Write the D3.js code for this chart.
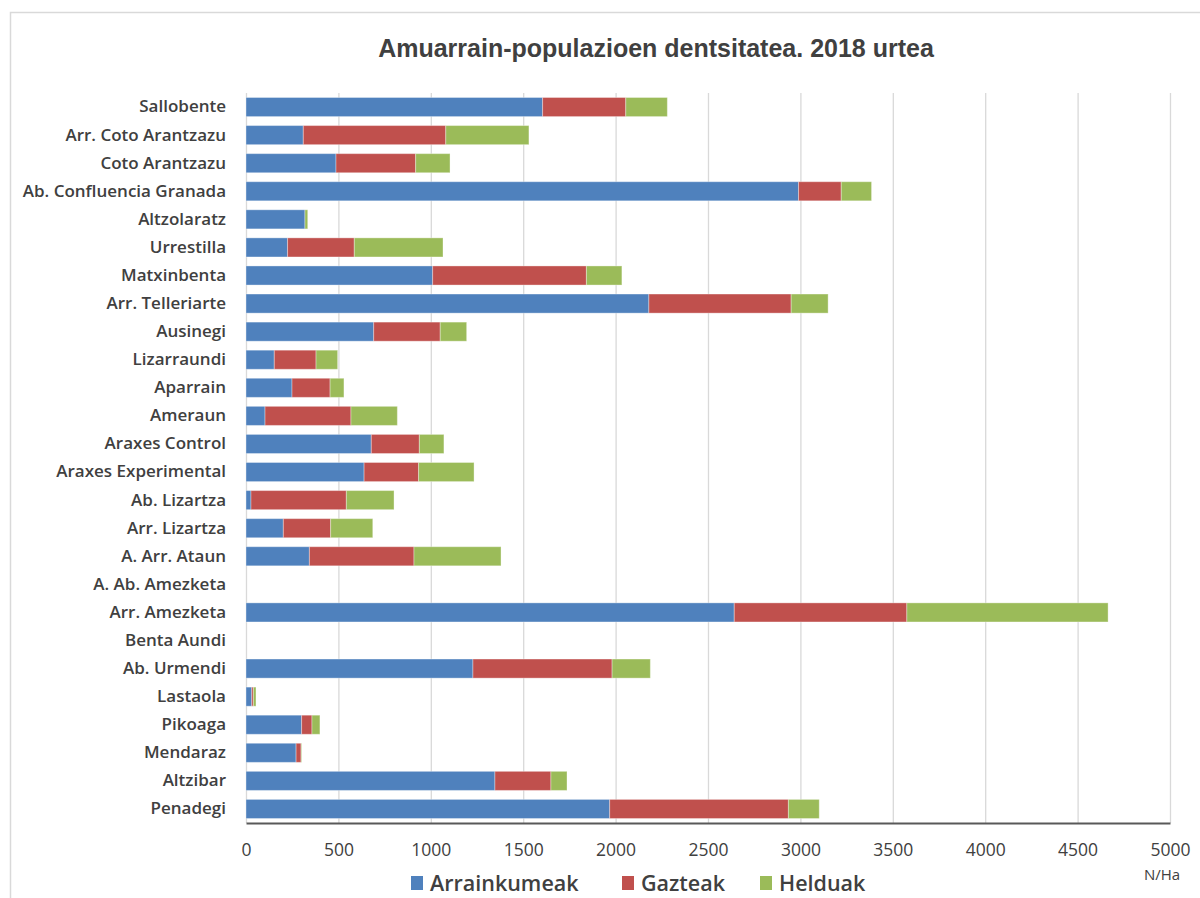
<!DOCTYPE html>
<html>
<head>
<meta charset="utf-8">
<script src="https://cdn.jsdelivr.net/npm/d3@7/dist/d3.min.js"></script>
<style>
html,body{margin:0;padding:0;background:#fff;}
svg{display:block;}
</style>
</head>
<body>
<svg id="chart" width="1200" height="898"></svg>
<script>
const categories = ["Sallobente","Arr. Coto Arantzazu","Coto Arantzazu","Ab. Confluencia Granada","Altzolaratz","Urrestilla","Matxinbenta","Arr. Telleriarte","Ausinegi","Lizarraundi","Aparrain","Ameraun","Araxes Control","Araxes Experimental","Ab. Lizartza","Arr. Lizartza","A. Arr. Ataun","A. Ab. Amezketa","Arr. Amezketa","Benta Aundi","Ab. Urmendi","Lastaola","Pikoaga","Mendaraz","Altzibar","Penadegi"];
const arrainkumeak = [1605,310,487,2990,319,225,1010,2180,691,153,249,103,678,639,27,202,343,0,2642,0,1228,31,301,271,1347,1968];
const gazteak      = [450,771,431,231,0,361,832,770,360,226,206,465,260,295,516,256,566,0,934,0,753,9,56,27,303,967];
const helduak      = [225,450,186,164,15,480,192,200,143,117,75,251,133,300,258,228,471,0,1089,0,207,14,43,3,87,167];
const seriesNames = ["Arrainkumeak","Gazteak","Helduak"];
const xTicks = [0,500,1000,1500,2000,2500,3000,3500,4000,4500,5000];
const titleText = "Amuarrain-populazioen dentsitatea. 2018 urtea";
const unitText = "N/Ha";

const colors = ["#4F81BD","#C0504D","#9BBB59"];

const svg = d3.select("#chart");
const m = {left:246, right:1170, top:93, bottom:823};

// chart border
svg.append("rect").attr("x",10.5).attr("y",12.5).attr("width",1300).attr("height",1000)
  .attr("fill","none").attr("stroke","#D9D9D9").attr("stroke-width",1.5);

const rows = categories.map((c,i)=>({cat:c, Arrainkumeak:arrainkumeak[i], Gazteak:gazteak[i], Helduak:helduak[i]}));
const stack = d3.stack().keys(seriesNames)(rows);

const x = d3.scaleLinear().domain([0,5000]).range([m.left,m.right]);
const y = d3.scaleBand().domain(categories).range([m.top,m.bottom]).paddingInner(0.32).paddingOuter(0.16);

// gridlines
svg.append("g").selectAll("line").data(xTicks).join("line")
  .attr("x1",d=>x(d)+0.5).attr("x2",d=>x(d)+0.5)
  .attr("y1",m.top).attr("y2",m.bottom)
  .attr("stroke","#D9D9D9").attr("stroke-width",1.3);

// bars
svg.append("g").selectAll("g").data(stack).join("g")
  .attr("fill",(d,i)=>colors[i])
  .selectAll("rect").data(d=>d.map(v=>({v, cat:v.data.cat}))).join("rect")
  .attr("x",d=>x(d.v[0]))
  .attr("y",d=>y(d.cat))
  .attr("width",d=>Math.max(0,x(d.v[1])-x(d.v[0])))
  .attr("height",y.bandwidth())
  .attr("stroke",d=>(d.v[1]-d.v[0])>0?"rgba(255,255,255,0.35)":"none")
  .attr("stroke-width",1);

// x axis
const xAxis = d3.axisBottom(x).tickValues(xTicks).tickSize(0).tickPadding(21).tickFormat(d3.format("d"));
const gx = svg.append("g").attr("transform",`translate(0,${m.bottom})`).call(xAxis);
gx.select(".domain").attr("stroke","#595959").attr("stroke-width",2);
gx.selectAll("text").attr("font-family","'Open Sans', sans-serif").attr("font-size",17.5).attr("fill","#404040");

// y axis
const yAxis = d3.axisLeft(y).tickSize(0).tickPadding(20);
const gy = svg.append("g").attr("transform",`translate(${m.left},0)`).call(yAxis);
gy.select(".domain").remove();
gy.selectAll("text").attr("font-family","'Open Sans', sans-serif").attr("font-weight",600).attr("font-size",17).attr("fill","#404040");

// title
svg.append("text").attr("x",656).attr("y",57).attr("text-anchor","middle")
  .attr("font-family","'Liberation Sans', Arial, sans-serif").attr("font-weight","bold")
  .attr("font-size",25).attr("fill","#404040").text(titleText);

// unit
svg.append("text").attr("x",1162).attr("y",880).attr("text-anchor","middle")
  .attr("font-family","'Open Sans', sans-serif").attr("font-size",15).attr("fill","#404040").text(unitText);

// legend
const legendX = [411,622,760];
const lg = svg.append("g").selectAll("g").data(seriesNames).join("g")
  .attr("transform",(d,i)=>`translate(${legendX[i]},876)`);
lg.append("rect").attr("width",12).attr("height",14).attr("y",0).attr("fill",(d,i)=>colors[i]);
lg.append("text").attr("x",19).attr("y",15).attr("font-family","'Open Sans', sans-serif")
  .attr("font-weight",600).attr("font-size",21.5).attr("fill","#404040").text(d=>d);
</script>
</body>
</html>
